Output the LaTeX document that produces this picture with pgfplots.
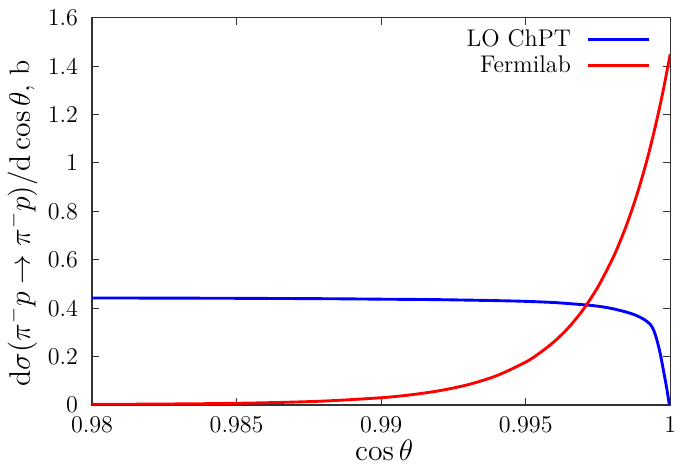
\documentclass[border=0pt]{standalone}
\usepackage{pgfplots}
\pgfplotsset{compat=1.18}
\pgfplotstableread{
x y
0.98000 0.442
0.98400 0.441
0.98800 0.439
0.99000 0.437
0.99200 0.435
0.99400 0.431
0.99500 0.428
0.99600 0.423
0.99700 0.414
0.99750 0.408
0.99800 0.398
0.99850 0.383
0.99880 0.371
0.99910 0.353
0.99930 0.334
0.99942 0.311
0.99953 0.272
0.99965 0.214
0.99976 0.146
0.99987 0.075
0.99997 0.000
}\chpt
\pgfplotstableread{
x y
0.98000 0.0021
0.98200 0.0033
0.98400 0.0052
0.98600 0.0089
0.98800 0.0158
0.99000 0.0297
0.99100 0.0414
0.99200 0.0584
0.99300 0.0835
0.99400 0.121
0.99500 0.177
0.99550 0.216
0.99600 0.263
0.99650 0.322
0.99700 0.396
0.99750 0.488
0.99800 0.603
0.99825 0.671
0.99850 0.747
0.99875 0.833
0.99900 0.929
0.99925 1.037
0.99950 1.159
0.99975 1.296
1.00000 1.450
}\fermi
\begin{document}
\begin{tikzpicture}
\begin{axis}[
  name=ax,
  scale only axis,
  width=280.8pt, height=188pt,
  xmin=0.98, xmax=1, ymin=0, ymax=1.6,
  xtick={0.98,0.985,0.99,0.995,1},
  xticklabels={0.98,0.985,0.99,0.995,1},
  ytick={0,0.2,0.4,0.6,0.8,1,1.2,1.4,1.6},
  yticklabels={0,0.2,0.4,0.6,0.8,1,1.2,1.4,1.6},
  scaled ticks=false,
  tick align=inside,
  major tick length=3.5pt,
  axis line style={line width=0.6pt, black!80},
  every tick/.style={black!80, line width=0.5pt},
  tick label style={font=\fontsize{11.7}{14}\selectfont},
  yticklabel style={xshift=-3.3pt},
  xticklabel style={yshift=-2.2pt},
  xlabel={$\cos\theta$},
  ylabel={$\mathrm{d}\sigma(\pi^-p\rightarrow\pi^-p)/\mathrm{d}\cos\theta$, b},
  xlabel style={font=\fontsize{13.6}{16}\selectfont, at={([xshift=1.5pt,yshift=-27.2pt]axis description cs:0.5,0)}, anchor=base},
  ylabel style={font=\fontsize{13.6}{16}\selectfont, at={([xshift=-33.9pt,yshift=-5.8pt]axis description cs:0,0.5)}, anchor=center},
  legend plot pos=right,
  legend cell align=right,
  legend style={draw=none, fill=none, font=\fontsize{11.7}{14}\selectfont, at={(rel axis cs:0.967,0.982)}, anchor=north east, row sep=-0.8pt, inner sep=0pt},
  legend image code/.code={\path (0pt,0pt); \draw[#1] (5.6pt,0pt) -- (35.4pt,0pt);},
]
\addplot[blue, line width=1.4pt, smooth] table[x=x,y=y] {\chpt};
\addlegendentry{LO ChPT}
\addplot[red, line width=1.4pt, smooth] table[x=x,y=y] {\fermi};
\addlegendentry{Fermilab}
\end{axis}
\path[use as bounding box] ([xshift=-44.7pt,yshift=-29.3pt]ax.south west) rectangle ([xshift=2.9pt,yshift=8.65pt]ax.north east);
\end{tikzpicture}
\end{document}
